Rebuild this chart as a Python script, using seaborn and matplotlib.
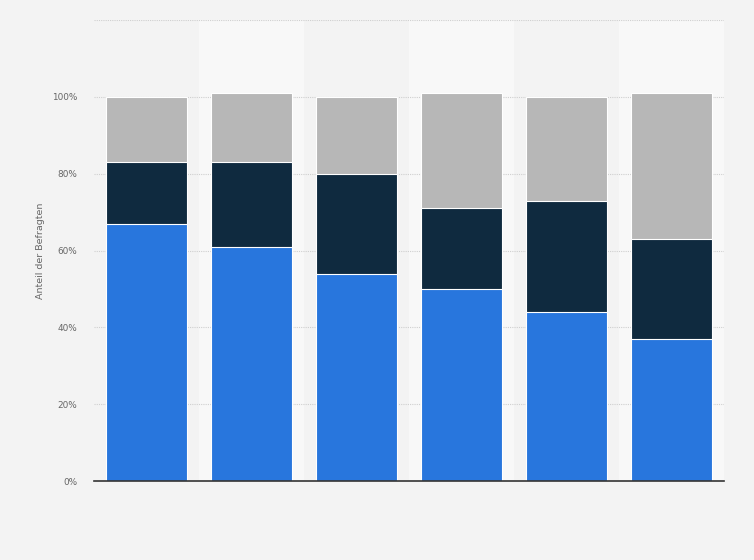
import matplotlib
matplotlib.use("Agg")
import matplotlib.pyplot as plt
import numpy as np
import pandas as pd
import seaborn as sns

# Data (percent)
categories = ["A", "B", "C", "D", "E", "F"]
blue_vals = [67, 61, 54, 50, 44, 37]
navy_vals = [16, 22, 26, 21, 29, 26]
gray_vals = [17, 18, 20, 30, 27, 38]

sns.set_style("white")
plt.rcParams["font.family"] = ["DejaVu Sans"]

df = pd.DataFrame({"cat": categories, "blue": blue_vals, "navy": navy_vals, "gray": gray_vals})
df["lvl2"] = df["blue"] + df["navy"]
df["lvl3"] = df["lvl2"] + df["gray"]

fig = plt.figure(figsize=(7.54, 5.6), dpi=100)
fig.patch.set_facecolor("#f3f3f3")
ax = fig.add_axes([0.1247, 0.141, 0.8355, 0.823])
ax.set_facecolor("#f3f3f3")

# alternating column bands
for i in range(len(categories)):
    if i % 2 == 1:
        ax.axvspan(i - 0.5, i + 0.5, color="#f8f8f8", zorder=0, lw=0)

# stacked bars by layering cumulative totals
sns.barplot(data=df, x="cat", y="lvl3", color="#b7b7b7", width=0.77, saturation=1,
            edgecolor="white", linewidth=0.8, ax=ax, zorder=3)
sns.barplot(data=df, x="cat", y="lvl2", color="#0f2a3f", width=0.77, saturation=1,
            edgecolor="white", linewidth=0.8, ax=ax, zorder=3)
sns.barplot(data=df, x="cat", y="blue", color="#2876dd", width=0.77, saturation=1,
            edgecolor="white", linewidth=0.8, ax=ax, zorder=3)

ax.set_xlim(-0.5, len(categories) - 0.5)
ax.set_ylim(0, 120)
ax.set_yticks([0, 20, 40, 60, 80, 100])
ax.set_yticklabels(["0%", "20%", "40%", "60%", "80%", "100%"], fontsize=6.4, color="#666666")
ax.set_xticks(range(len(categories)))
ax.set_xticklabels([""] * len(categories))
ax.tick_params(axis="both", length=0, pad=12)
ax.set_xlabel("")
ax.set_ylabel("Anteil der Befragten", fontsize=6.8, color="#666666", labelpad=5)

for y in [20, 40, 60, 80, 100, 120]:
    ax.axhline(y, color="#cfcfcf", lw=0.8, ls=(0, (1, 1)), zorder=1)

for s in ["top", "right", "left"]:
    ax.spines[s].set_visible(False)
ax.spines["bottom"].set_color("#333333")
ax.spines["bottom"].set_linewidth(1.2)
ax.spines["bottom"].set_zorder(5)

fig.savefig("out.png", dpi=100, facecolor=fig.get_facecolor())
